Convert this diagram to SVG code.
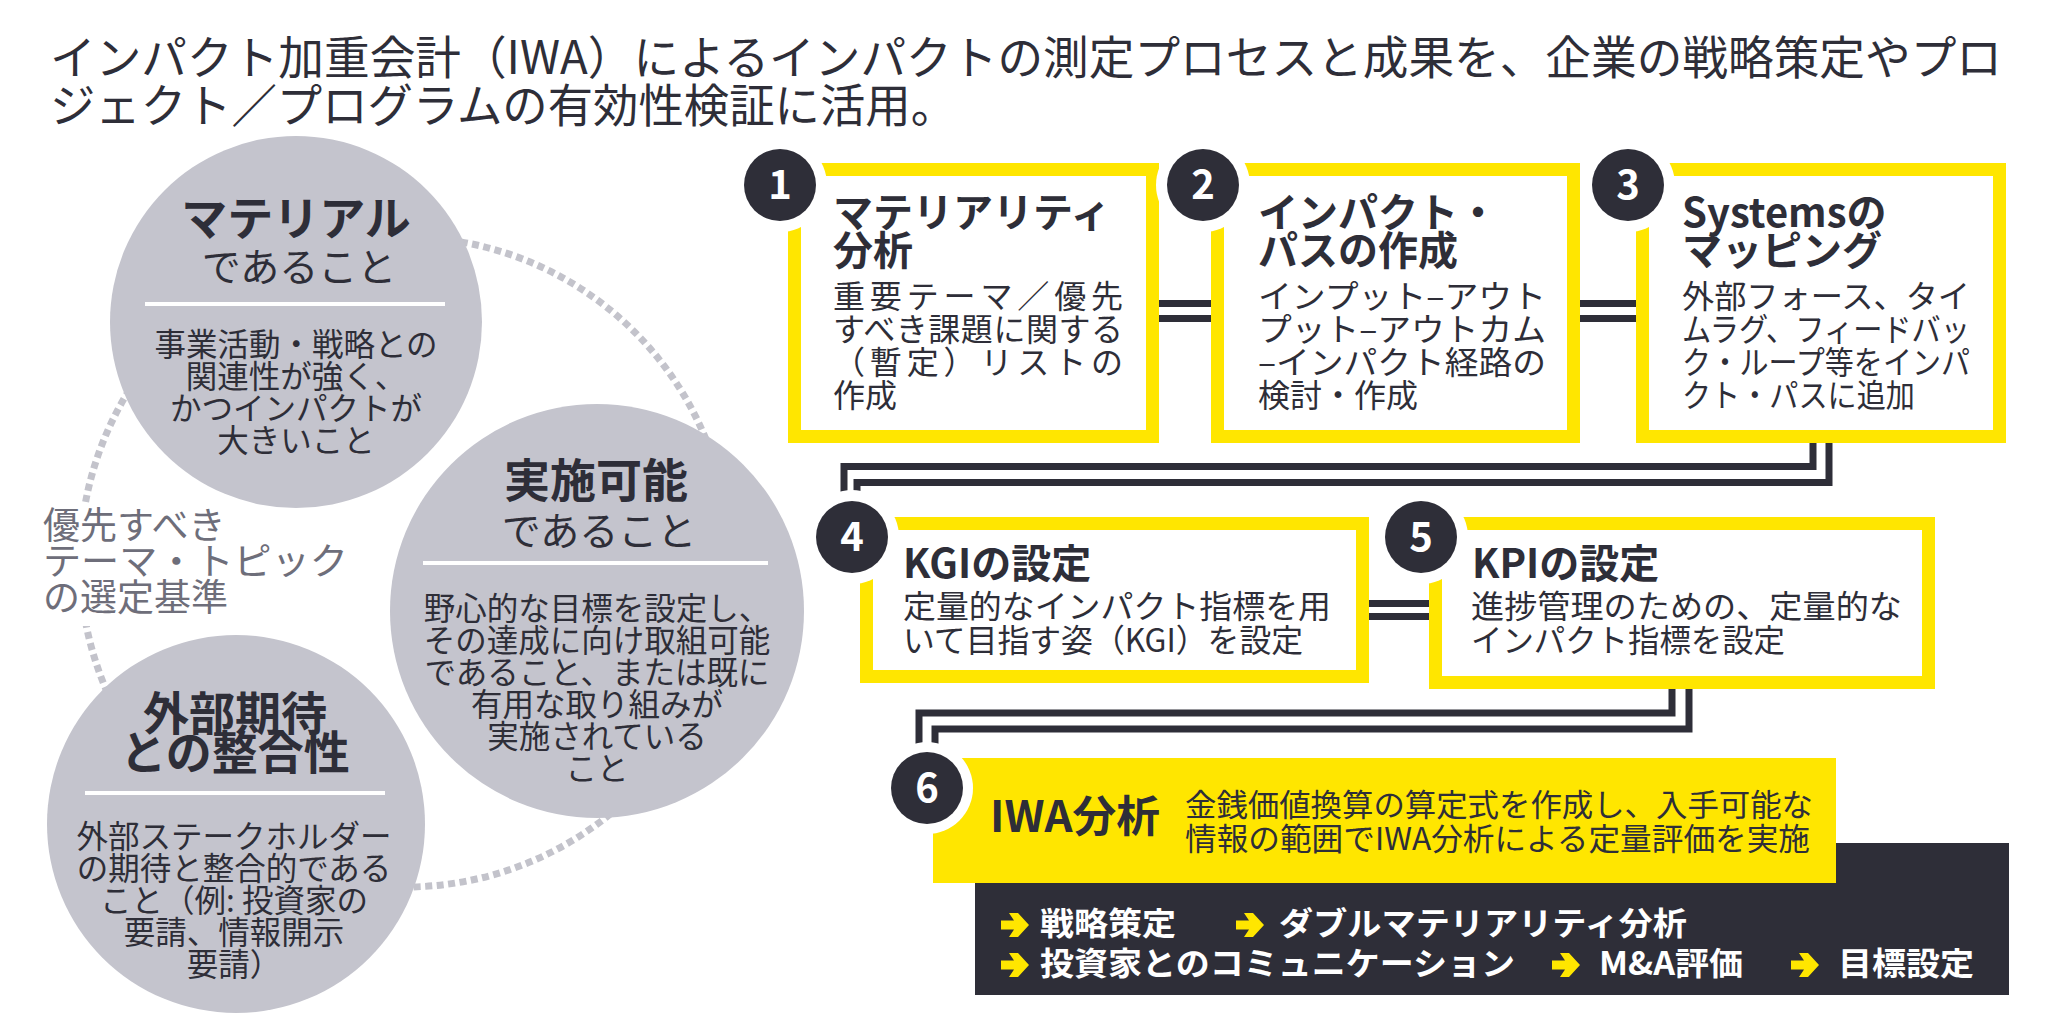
<svg xmlns="http://www.w3.org/2000/svg" width="2048" height="1024" viewBox="0 0 2048 1024">
<defs>
<style>
text { font-family: "Noto Sans CJK JP", "Noto Sans", sans-serif; fill: #2e2e38; }
.ttl { font-size: 46px; }
.ch { font-size: 46px; font-weight: 700; text-anchor: middle; }
.cs { font-size: 39px; text-anchor: middle; }
.cb { font-size: 31.5px; text-anchor: middle; }
.lab { font-size: 37px; fill: #6e6e7a; }
.bt { font-size: 40px; font-weight: 700; }
.bb { font-size: 32px; }
.num { font-size: 40px; font-weight: 700; fill: #ffffff; text-anchor: middle; }
.box { fill: #ffffff; stroke: #ffe600; stroke-width: 13; }
.ell { fill: #c4c4cd; }
.sep { stroke: #ffffff; stroke-width: 4; }
.conn path { fill: none; stroke: #2e2e38; stroke-width: 7; }
.wt { fill: #ffffff; font-weight: 700; font-size: 32px; }
.ring { fill: #ffffff; }
.dot { fill: #2e2e38; }
.arr { fill: #ffe600; }
</style>
<path id="arr" d="M0,-4.5 H13 L8,-12 H17 L28,0 L17,12 H8 L13,4.5 H0 Z"/>
<mask id="lm">
<rect x="0" y="0" width="2048" height="1024" fill="#ffffff"/>
<rect x="0" y="503" width="220" height="123" fill="#000000"/>
</mask>
</defs>

<g id="title">
<text class="ttl" x="50" y="74" textLength="1952" lengthAdjust="spacingAndGlyphs">インパクト加重会計（IWA）によるインパクトの測定プロセスと成果を、企業の戦略策定やプロ</text>
<text class="ttl" x="50" y="122" textLength="906" lengthAdjust="spacingAndGlyphs">ジェクト／プログラムの有効性検証に活用。</text>
</g>

<g id="criteria-ring">
<circle cx="405" cy="562" r="325" fill="none" stroke="#c3c3cb" stroke-width="7" stroke-dasharray="7 4.5" mask="url(#lm)"/>
</g>

<g id="crit-material">
<circle class="ell" cx="296" cy="322" r="186"/>
<text class="ch" x="296" y="235">マテリアル</text>
<text class="cs" x="299" y="281">であること</text>
<line class="sep" x1="145" y1="304" x2="445" y2="304"/>
<text class="cb" x="296" y="356">事業活動・戦略との</text>
<text class="cb" x="296" y="388">関連性が強く、</text>
<text class="cb" x="296" y="420">かつインパクトが</text>
<text class="cb" x="296" y="452">大きいこと</text>
</g>

<g id="crit-feasible">
<circle class="ell" cx="597" cy="611" r="207"/>
<text class="ch" x="596" y="497">実施可能</text>
<text class="cs" x="599" y="545">であること</text>
<line class="sep" x1="423" y1="563" x2="768" y2="563"/>
<text class="cb" x="597" y="620">野心的な目標を設定し、</text>
<text class="cb" x="597" y="652">その達成に向け取組可能</text>
<text class="cb" x="597" y="684">であること、または既に</text>
<text class="cb" x="597" y="716">有用な取り組みが</text>
<text class="cb" x="597" y="748">実施されている</text>
<text class="cb" x="597" y="780">こと</text>
</g>

<g id="crit-external">
<circle class="ell" cx="236" cy="824" r="189"/>
<text class="ch" x="235" y="730">外部期待</text>
<text class="ch" x="235" y="769">との整合性</text>
<line class="sep" x1="85" y1="793" x2="385" y2="793"/>
<text class="cb" x="234" y="848">外部ステークホルダー</text>
<text class="cb" x="234" y="880">の期待と整合的である</text>
<text class="cb" x="234" y="912">こと（例: 投資家の</text>
<text class="cb" x="234" y="944">要請、情報開示</text>
<text class="cb" x="234" y="976">要請）</text>
</g>

<g id="criteria-label">
<text class="lab" x="43" y="539">優先すべき</text>
<text class="lab" x="43" y="575" textLength="305" lengthAdjust="spacingAndGlyphs">テーマ・トピック</text>
<text class="lab" x="43" y="611">の選定基準</text>
</g>

<g id="connectors" class="conn">
<path d="M1159,303.5 H1211 M1159,318.5 H1211"/>
<path d="M1580,303.5 H1636 M1580,318.5 H1636"/>
<path d="M1813,443 V466.5 H844 V510"/>
<path d="M1829,443 V482.5 H857 V510"/>
<path d="M1369,603.5 H1429 M1369,616.5 H1429"/>
<path d="M1672,689 V713 H919 V770"/>
<path d="M1689,689 V729 H935 V770"/>
</g>

<g id="step1">
<rect class="box" x="794.5" y="169.5" width="358" height="267"/>
<circle class="ring" cx="780" cy="185" r="47"/>
<circle class="dot" cx="780" cy="185" r="36"/>
<text class="num" x="780" y="199">1</text>
<text class="bt" x="833" y="227">マテリアリティ</text>
<text class="bt" x="833" y="265">分析</text>
<text class="bb" x="833" y="308" textLength="290" lengthAdjust="spacing">重要テーマ／優先</text>
<text class="bb" x="833" y="341" textLength="290" lengthAdjust="spacing">すべき課題に関する</text>
<text class="bb" x="833" y="374" textLength="290" lengthAdjust="spacing">（暫定）リストの</text>
<text class="bb" x="833" y="407">作成</text>
</g>

<g id="step2">
<rect class="box" x="1217.5" y="169.5" width="356" height="267"/>
<circle class="ring" cx="1203" cy="185" r="47"/>
<circle class="dot" cx="1203" cy="185" r="36"/>
<text class="num" x="1203" y="199">2</text>
<text class="bt" x="1258" y="227">インパクト・</text>
<text class="bt" x="1258" y="265">パスの作成</text>
<text class="bb" x="1258" y="308" textLength="288" lengthAdjust="spacingAndGlyphs">インプット–アウト</text>
<text class="bb" x="1258" y="341" textLength="288" lengthAdjust="spacingAndGlyphs">プット–アウトカム</text>
<text class="bb" x="1258" y="374" textLength="288" lengthAdjust="spacingAndGlyphs">–インパクト経路の</text>
<text class="bb" x="1258" y="407">検討・作成</text>
</g>

<g id="step3">
<rect class="box" x="1642.5" y="169.5" width="357" height="267"/>
<circle class="ring" cx="1628" cy="185" r="47"/>
<circle class="dot" cx="1628" cy="185" r="36"/>
<text class="num" x="1628" y="199">3</text>
<text class="bt" x="1682" y="227">Systemsの</text>
<text class="bt" x="1682" y="265">マッピング</text>
<text class="bb" x="1682" y="308" textLength="288" lengthAdjust="spacingAndGlyphs">外部フォース、タイ</text>
<text class="bb" x="1682" y="341" textLength="288" lengthAdjust="spacingAndGlyphs">ムラグ、フィードバッ</text>
<text class="bb" x="1682" y="374" textLength="288" lengthAdjust="spacingAndGlyphs">ク・ループ等をインパ</text>
<text class="bb" x="1682" y="407" textLength="233" lengthAdjust="spacingAndGlyphs">クト・パスに追加</text>
</g>

<g id="step4">
<rect class="box" x="866.5" y="523.5" width="496" height="153"/>
<circle class="ring" cx="852" cy="537" r="47"/>
<circle class="dot" cx="852" cy="537" r="36"/>
<text class="num" x="852" y="551">4</text>
<text class="bt" x="903" y="578">KGIの設定</text>
<text class="bb" x="903" y="618" textLength="428" lengthAdjust="spacingAndGlyphs">定量的なインパクト指標を用</text>
<text class="bb" x="903" y="652" textLength="400" lengthAdjust="spacingAndGlyphs">いて目指す姿（KGI）を設定</text>
</g>

<g id="step5">
<rect class="box" x="1435.5" y="523.5" width="493" height="159"/>
<circle class="ring" cx="1421" cy="537" r="47"/>
<circle class="dot" cx="1421" cy="537" r="36"/>
<text class="num" x="1421" y="551">5</text>
<text class="bt" x="1472" y="578">KPIの設定</text>
<text class="bb" x="1471" y="618" textLength="431" lengthAdjust="spacingAndGlyphs">進捗管理のための、定量的な</text>
<text class="bb" x="1471" y="652" textLength="314" lengthAdjust="spacingAndGlyphs">インパクト指標を設定</text>
</g>

<g id="outcomes">
<rect x="975" y="843" width="1034" height="152" fill="#2e2e38"/>
<use href="#arr" class="arr" x="1001" y="925"/>
<text class="wt" x="1040" y="935" textLength="136" lengthAdjust="spacingAndGlyphs">戦略策定</text>
<use href="#arr" class="arr" x="1236" y="925"/>
<text class="wt" x="1279" y="935" textLength="408" lengthAdjust="spacingAndGlyphs">ダブルマテリアリティ分析</text>
<use href="#arr" class="arr" x="1001" y="965"/>
<text class="wt" x="1040" y="975" textLength="475" lengthAdjust="spacingAndGlyphs">投資家とのコミュニケーション</text>
<use href="#arr" class="arr" x="1552" y="965"/>
<text class="wt" x="1599" y="975" textLength="144" lengthAdjust="spacingAndGlyphs">M&amp;A評価</text>
<use href="#arr" class="arr" x="1791" y="965"/>
<text class="wt" x="1838" y="975" textLength="136" lengthAdjust="spacingAndGlyphs">目標設定</text>
</g>

<g id="step6">
<rect x="933" y="758" width="903" height="125" fill="#ffe600"/>
<circle class="ring" cx="927" cy="788" r="46"/>
<circle class="dot" cx="927" cy="788" r="36"/>
<text class="num" x="927" y="802">6</text>
<text x="990" y="832" font-size="43" font-weight="700" textLength="170" lengthAdjust="spacingAndGlyphs">IWA分析</text>
<text x="1185" y="816" font-size="31" textLength="628" lengthAdjust="spacingAndGlyphs">金銭価値換算の算定式を作成し、入手可能な</text>
<text x="1185" y="850" font-size="31" textLength="625" lengthAdjust="spacingAndGlyphs">情報の範囲でIWA分析による定量評価を実施</text>
</g>
</svg>
